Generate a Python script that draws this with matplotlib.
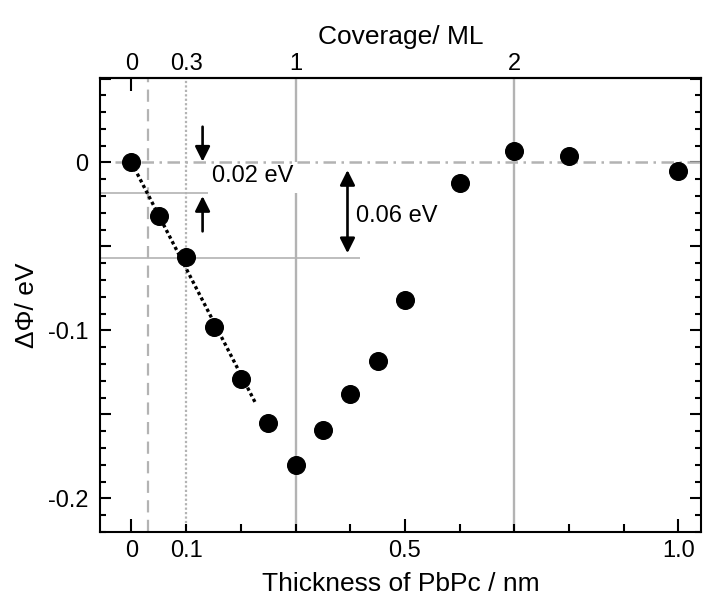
import numpy as np
import matplotlib
matplotlib.use('Agg')
import matplotlib.pyplot as plt
from matplotlib.ticker import FixedLocator

# thickness of PbPc (nm) and work function change (eV)
thickness = [0.0, 0.05, 0.1, 0.15, 0.2, 0.25, 0.3, 0.35, 0.4, 0.45, 0.5, 0.6, 0.7, 0.8, 1.0]
delta_phi = [0.0, -0.032, -0.056, -0.098, -0.129, -0.155, -0.180, -0.159,
             -0.138, -0.118, -0.082, -0.012, 0.007, 0.004, -0.005]

# linear fit over the first points
fit_x = [0.0, 0.228]
fit_y = [0.0, -0.144]

# coverage (ML) on the top axis, at their thickness positions
cov_pos = [0.1, 0.3, 0.7]
cov_labels = ['0.3', '1', '2']
dashed_pos = 0.03

# reference levels for the two steps
level_small = -0.018
level_big = -0.057

plt.rcParams['font.family'] = ['Liberation Sans', 'DejaVu Sans']
plt.rcParams['axes.unicode_minus'] = False

fig = plt.figure(figsize=(7.05, 6.02), dpi=100)
ax = fig.add_axes([100/705, 1-532/602, 601/705, 454/602])
xmin, xmax = -0.0576, 1.0415
ymin, ymax = -0.22, 0.0503
ax.set_xlim(xmin, xmax)
ax.set_ylim(ymin, ymax)

grey = '#b3b3b3'
ax.axvline(dashed_pos, color=grey, lw=1.6, ls=(0, (5.5, 3.3)), zorder=1)
ax.axvline(cov_pos[0], color=grey, lw=1.6, ls=(0, (1, 1)), zorder=1)
# 1 ML line is broken between 0 and the 0.02 eV level (text sits there)
ax.vlines([cov_pos[1]] * 2, [ymin, 0], [level_small, ymax], color=grey, lw=1.7, zorder=1)
ax.axvline(cov_pos[2], color=grey, lw=1.7, zorder=1)
ax.hlines(level_small, xmin, 0.14, color=grey, lw=1.2, zorder=1)
ax.hlines(level_big, xmin, 0.418, color=grey, lw=1.2, zorder=1)
ax.hlines(0, -0.03, xmax, color=grey, lw=1.8, linestyles=[(0, (5, 2.2, 1, 2.2))], zorder=3)

# fit and data
ax.plot(fit_x, fit_y, color='k', lw=2.4, ls=(0, (1, 0.9)), zorder=4)
ax.plot(thickness, delta_phi, 'o', color='k', ms=12.7, zorder=5)

# step annotations
arr = dict(arrowstyle='-|>,head_length=0.6,head_width=0.3', color='k', lw=1.9,
           mutation_scale=15, shrinkA=0, shrinkB=0)
ax.annotate('', xy=(0.13, 0.0005), xytext=(0.13, 0.0213), arrowprops=arr, zorder=6)
ax.annotate('', xy=(0.13, -0.020), xytext=(0.13, -0.041), arrowprops=arr, zorder=6)
arr2 = dict(arr, arrowstyle='<|-|>,head_length=0.6,head_width=0.3')
ax.annotate('', xy=(0.395, -0.0045), xytext=(0.395, -0.054), arrowprops=arr2, zorder=6)
ax.text(0.147, -0.008, '0.02 eV', fontsize=17, va='center', ha='left', zorder=6)
ax.text(0.41, -0.032, '0.06 eV', fontsize=17, va='center', ha='left', zorder=6)

# bottom axis
ax.xaxis.set_major_locator(FixedLocator([0, 0.5, 1.0]))
ax.set_xticklabels(['0', '0.5', '1.0'])
minor_x = [0.1, 0.2, 0.3, 0.4, 0.6, 0.7, 0.8, 0.9]
ax.xaxis.set_minor_locator(FixedLocator(minor_x))
ax.set_xticklabels(['0.1', '', '', '', '', '', '', ''], minor=True)
ax.tick_params(axis='x', which='both', direction='in', top=False, width=1.5,
               labelsize=17, pad=6)
ax.tick_params(axis='x', which='major', length=9.5)
ax.tick_params(axis='x', which='minor', length=6)

# left/right axis
major_y = [-0.2, -0.15, -0.1, -0.05, 0.0, 0.05]
ax.yaxis.set_major_locator(FixedLocator(major_y))
ax.set_yticklabels(['-0.2', '', '-0.1', '', '0', ''])
ax.yaxis.set_minor_locator(FixedLocator(np.arange(-0.22, 0.051, 0.01)))
ax.tick_params(axis='y', which='both', direction='in', left=True, right=True,
               width=1.5, labelsize=17, pad=8.5)
ax.tick_params(axis='y', which='major', length=8)
ax.tick_params(axis='y', which='minor', length=4.3)

for sp in ax.spines.values():
    sp.set_linewidth(1.5)

ax.set_xlabel('Thickness of PbPc / nm', fontsize=19, labelpad=7)
ax.set_ylabel('ΔΦ/ eV', fontsize=19, labelpad=6)

# top axis: coverage
sec = ax.secondary_xaxis('top')
sec.set_xticks([0.0], ['0'])
sec.set_xticks(cov_pos, cov_labels, minor=True)
sec.tick_params(axis='x', which='major', direction='in', length=9.5, width=1.5,
                labelsize=17, pad=2.5)
sec.tick_params(axis='x', which='minor', length=0, labelsize=17, pad=2.5)
sec.spines['top'].set_linewidth(1.5)
sec.set_xlabel('Coverage/ ML', fontsize=19, labelpad=6)

fig.savefig('out.png', dpi=100)
